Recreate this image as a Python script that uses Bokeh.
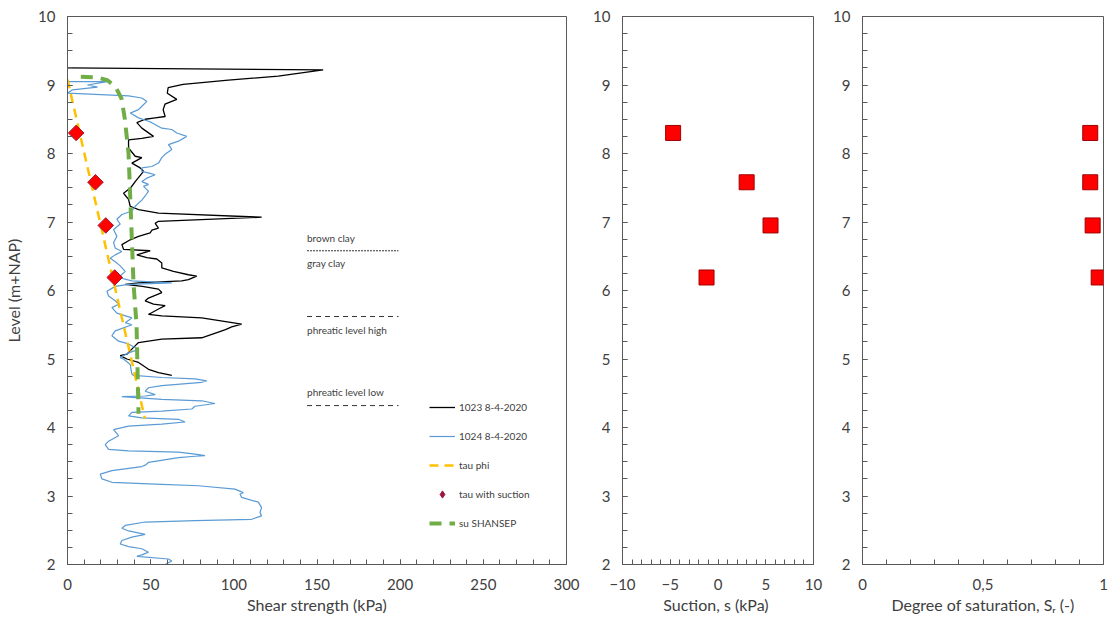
import numpy as np
from bokeh.plotting import figure
from bokeh.layouts import row
from bokeh.models import (Range1d, SingleIntervalTicker, FixedTicker, Legend,
                          LegendItem, Label)
from bokeh.embed import file_html
from bokeh.resources import INLINE

# ---------------- data ----------------
cpt1023_kpa = [0, 153.7, 126.7, 96.7, 69.5, 60.5, 60, 65.7, 58.6, 57.5, 58.7, 52.7, 46.7, 41.7,
               44.7, 51.7, 44.7, 36.7, 36.7, 40.7, 44.7, 38.7, 43.7, 45.7, 40.7, 38, 33.7,
               36.7, 37.7, 42.7, 54.7, 116.7, 54.7, 52.7, 54.7, 50.7, 49.7, 42.7, 37.7, 32.7,
               33.7, 49.7, 41.7, 47.7, 53.7, 56.7, 56.7, 63.7, 72.7, 77.7, 72.7, 68.7, 42.7,
               34.7, 45, 54.7, 56.7, 48.7, 46.7, 51.7, 58.7, 54.7, 48.7, 56.7, 80.7, 104.7,
               98.7, 95, 80.7, 56.7, 42.7, 39.7, 35.7, 31.7, 35.7, 42.7, 48.7, 54.7, 62.7]
cpt1023_lvl = [9.25, 9.22, 9.13, 9.07, 9.01, 8.96, 8.88, 8.79, 8.72, 8.64, 8.54, 8.52, 8.50, 8.45,
               8.37, 8.25, 8.22, 8.20, 8.08, 7.96, 7.94, 7.86, 7.79, 7.74, 7.59, 7.50, 7.42,
               7.33, 7.23, 7.18, 7.13, 7.07, 7.01, 6.98, 6.91, 6.88, 6.84, 6.79, 6.74, 6.67,
               6.60, 6.58, 6.52, 6.48, 6.46, 6.40, 6.33, 6.28, 6.23, 6.21, 6.16, 6.14, 6.11,
               6.09, 6.06, 6.02, 5.97, 5.89, 5.85, 5.80, 5.78, 5.73, 5.65, 5.63, 5.60, 5.51,
               5.47, 5.43, 5.31, 5.29, 5.24, 5.17, 5.07, 5.05, 5.00, 4.95, 4.85, 4.80, 4.76]

cpt1024_kpa = [0, 24, 12, 18, 3, 0, 36.7, 44.7, 47.7, 44.7, 42.7, 37.7, 42.7, 48.7, 50.7, 56.7,
               62.7, 65.7, 71.7, 66.7, 60.7, 62.7, 58.7, 56.7, 54.7, 50.7, 44.7, 44.7, 49.7,
               52.7, 47.7, 44.7, 48.7, 45.7, 48.7, 46.7, 44.7, 40.7, 38.7, 32.7, 29.7, 31.7,
               27.7, 29.7, 27.7, 28.7, 32.7, 28.7, 25.7, 28.7, 31.7, 34.7, 30.7, 38.7, 62.7,
               36.7, 28.7, 23.7, 24.7, 28.7, 30.7, 26.7, 29.7, 38.7, 34.7, 38.7, 28.7, 26.7,
               30.7, 36.7, 42.7, 36.7, 31.7, 33.7, 37.7, 38.7, 39.7, 56.7, 76.7, 83.7, 80.7,
               56.7, 48.7, 46.7, 52.7, 46.7, 32.7, 56.7, 80.7, 88.7, 76.7, 74.7, 56.7, 38.7,
               36.7, 44.7, 66.7, 70.7, 56.7, 36.7, 27.7, 30.7, 24.7, 22.7, 24.7, 36.7, 66.7,
               76.7, 82.7, 76.7, 66.7, 48.7, 46.7, 44.7, 26.7, 19.7, 20.7, 26.7, 56.7, 78.7,
               100.7, 105.7, 103.7, 104.7, 114.7, 116.7, 115.7, 116.7, 110.7, 76.7, 46.7,
               34.7, 32.7, 36.7, 46.7, 38.7, 32.7, 31.7, 36.7, 44.7, 48.7, 44.7, 41.7, 60.7,
               62.7, 58.7]
cpt1024_lvl = [9.05, 9.05, 9.00, 8.97, 8.93, 8.88, 8.84, 8.81, 8.76, 8.69, 8.64, 8.59, 8.52,
               8.47, 8.45, 8.37, 8.35, 8.30, 8.25, 8.18, 8.13, 8.06, 7.99, 7.94, 7.86, 7.81,
               7.79, 7.74, 7.71, 7.69, 7.64, 7.59, 7.55, 7.52, 7.45, 7.38, 7.32, 7.23, 7.16,
               7.11, 7.04, 6.97, 6.89, 6.79, 6.70, 6.62, 6.57, 6.52, 6.47, 6.42, 6.36, 6.28,
               6.19, 6.14, 6.11, 6.09, 6.06, 5.99, 5.92, 5.85, 5.80, 5.75, 5.67, 5.60, 5.53,
               5.50, 5.41, 5.34, 5.26, 5.22, 5.14, 5.09, 5.02, 5.00, 4.92, 4.78, 4.76, 4.73,
               4.71, 4.68, 4.66, 4.61, 4.58, 4.53, 4.48, 4.46, 4.45, 4.41, 4.39, 4.35, 4.31,
               4.27, 4.24, 4.22, 4.17, 4.14, 4.12, 4.08, 4.05, 4.02, 3.97, 3.88, 3.80, 3.75,
               3.68, 3.66, 3.64, 3.61, 3.59, 3.58, 3.56, 3.49, 3.45, 3.43, 3.37, 3.32, 3.25,
               3.20, 3.17, 3.15, 3.10, 3.05, 3.03, 2.98, 2.91, 2.83, 2.76, 2.71, 2.66, 2.64,
               2.62, 2.57, 2.53, 2.49, 2.44, 2.40, 2.35, 2.30, 2.26, 2.23, 2.18, 2.14, 2.12,
               2.08, 2.05, 2.00]

tau_phi_kpa = [0, 46.5]
tau_phi_lvl = [9.08, 4.13]

su_shansep_kpa = [8, 18, 24, 29, 32.5, 34.5, 36.7, 37.5, 39.7, 41.5, 42.7]
su_shansep_lvl = [9.12, 9.11, 9.07, 8.97, 8.80, 8.50, 8.00, 7.50, 6.10, 5.50, 4.20]

sample_lvl = [8.30, 7.58, 6.95, 6.19]
tau_suction_kpa = [5.2, 16.8, 23.0, 28.4]
suction_kpa = [-4.7, 3.0, 5.5, -1.2]
saturation = [0.945, 0.945, 0.955, 0.98]

boundary_clay_lvl = 6.58
phreatic_high_lvl = 5.62
phreatic_low_lvl = 4.32

# ---------------- styling ----------------
FONT = "Lato"
TXT = "#404040"
EDGE = "#595959"
H = 618
TOP = 16
BOTTOM = 54


def style(p, xlabel, ylabel):
    p.outline_line_color = EDGE
    p.outline_line_width = 1
    p.xgrid.visible = False
    p.ygrid.visible = False
    p.background_fill_color = "white"
    p.border_fill_color = "white"
    for ax in (p.xaxis[0], p.yaxis[0]):
        ax.major_tick_in = 5
        ax.major_tick_out = 0
        ax.minor_tick_in = 5
        ax.minor_tick_out = 0
        ax.axis_line_color = EDGE
        ax.major_tick_line_color = EDGE
        ax.minor_tick_line_color = EDGE
        ax.major_label_text_font = FONT
        ax.major_label_text_font_size = "15px"
        ax.major_label_text_color = TXT
        ax.axis_label_text_font = FONT
        ax.axis_label_text_font_size = "16px"
        ax.axis_label_text_font_style = "normal"
        ax.axis_label_text_color = TXT
    p.xaxis[0].major_label_standoff = 14
    p.xaxis[0].axis_label_standoff = 2
    p.yaxis[0].major_label_standoff = 12
    p.yaxis[0].axis_label_standoff = 12
    p.xaxis[0].axis_label = xlabel
    if ylabel:
        p.yaxis[0].axis_label = ylabel
    p.yaxis[0].ticker = SingleIntervalTicker(interval=1, num_minor_ticks=4)


# ---------------- left panel ----------------
p1 = figure(width=580, height=H, x_range=Range1d(0, 300), y_range=Range1d(2, 10),
            output_backend="svg", toolbar_location=None,
            min_border_left=67, min_border_right=14, min_border_top=TOP, min_border_bottom=BOTTOM)
style(p1, "Shear strength (kPa)", "Level (m+NAP)")
p1.xaxis[0].ticker = SingleIntervalTicker(interval=50, num_minor_ticks=5)

r_1023 = p1.line(cpt1023_kpa, cpt1023_lvl, line_color="black", line_width=1.3)
r_1024 = p1.line(cpt1024_kpa, cpt1024_lvl, line_color="#5B9BD5", line_width=1.2)
r_phi = p1.line(tau_phi_kpa, tau_phi_lvl, line_color="#FFC000", line_width=2.5, line_dash="9 6")
r_su = p1.line(su_shansep_kpa, su_shansep_lvl, line_color="#70AD47", line_width=4, line_dash="12 8")
p1.scatter(tau_suction_kpa, sample_lvl, marker="square", angle=np.pi / 4, size=11,
           fill_color="#FF0000", line_color="#9E1B32", line_width=1)
r_diam_leg = p1.scatter(tau_suction_kpa, sample_lvl, marker="diamond", size=8,
                        fill_color="#A0153E", line_color="#A0153E", visible=False)

# layer annotations
ANN_X0, ANN_X1 = 144, 199
p1.segment(x0=ANN_X0, x1=ANN_X1, y0=boundary_clay_lvl, y1=boundary_clay_lvl,
           line_color="#333333", line_width=1, line_dash="2 1")
p1.segment(x0=ANN_X0, x1=ANN_X1, y0=phreatic_high_lvl, y1=phreatic_high_lvl,
           line_color="#333333", line_width=1, line_dash="5 4")
p1.segment(x0=ANN_X0, x1=ANN_X1, y0=phreatic_low_lvl, y1=phreatic_low_lvl,
           line_color="#333333", line_width=1, line_dash="5 4")
for txt, lvl, off in [("brown clay", boundary_clay_lvl, 13),
                      ("gray clay", boundary_clay_lvl, -12),
                      ("phreatic level high", phreatic_high_lvl, -13),
                      ("phreatic level low", phreatic_low_lvl, 14)]:
    p1.add_layout(Label(x=ANN_X0, y=lvl, y_offset=off, text=txt, text_font=FONT,
                        text_font_size="10px", text_color=TXT, text_baseline="middle"))

legend = Legend(items=[LegendItem(label="1023 8-4-2020", renderers=[r_1023]),
                       LegendItem(label="1024 8-4-2020", renderers=[r_1024]),
                       LegendItem(label="tau phi", renderers=[r_phi]),
                       LegendItem(label="tau with suction", renderers=[r_diam_leg]),
                       LegendItem(label="su SHANSEP", renderers=[r_su])],
                location=(362, 32), orientation="vertical",
                border_line_alpha=0, background_fill_alpha=0,
                label_text_font=FONT, label_text_font_size="10px", label_text_color=TXT,
                glyph_width=26, glyph_height=18, label_height=18, spacing=11,
                padding=0, margin=0, label_standoff=4)
p1.add_layout(legend)

# ---------------- middle panel ----------------
p2 = figure(width=244, height=H, x_range=Range1d(-10, 10), y_range=Range1d(2, 10),
            output_backend="svg", toolbar_location=None,
            min_border_left=42, min_border_right=11, min_border_top=TOP, min_border_bottom=BOTTOM)
style(p2, "Suction, s  (kPa)", None)
p2.xaxis[0].ticker = SingleIntervalTicker(interval=5, num_minor_ticks=5)
p2.scatter(suction_kpa, sample_lvl, marker="square", size=15,
           fill_color="#FF0000", line_color="#A00000", line_width=1)

# ---------------- right panel ----------------
p3 = figure(width=291, height=H, x_range=Range1d(0, 1), y_range=Range1d(2, 10),
            output_backend="svg", toolbar_location=None,
            min_border_left=38, min_border_right=12, min_border_top=TOP, min_border_bottom=BOTTOM)
style(p3, "Degree of saturation, Sᵣ (-)", None)
p3.xaxis[0].axis_label_text_font = "Lato, DejaVu Sans"
p3.xaxis[0].ticker = FixedTicker(ticks=[0, 0.5, 1],
                                 minor_ticks=[0.1, 0.2, 0.3, 0.4, 0.6, 0.7, 0.8, 0.9])
p3.xaxis[0].major_label_overrides = {0: "0", 0.5: "0,5", 1: "1"}
p3.scatter(saturation, sample_lvl, marker="square", size=15,
           fill_color="#FF0000", line_color="#A00000", line_width=1)

layout = row(p1, p2, p3, spacing=0)
open("out.html", "w").write(file_html(layout, INLINE))
